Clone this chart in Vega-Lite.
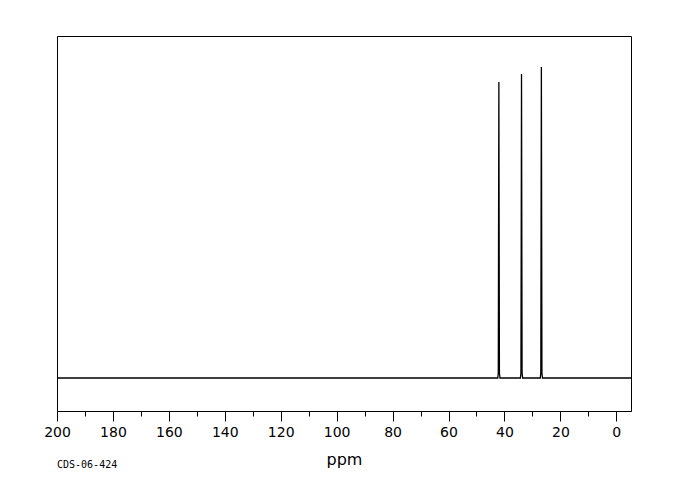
{
  "$schema": "https://vega.github.io/schema/vega-lite/v6.json",
  "width": 574,
  "height": 375,
  "autosize": "none",
  "padding": {"left": 57, "top": 36, "right": 49, "bottom": 89},
  "background": "white",
  "title": {"text": "CDS-06-424", "orient": "bottom", "anchor": "start", "frame": "group", "font": "DejaVu Sans Mono", "fontSize": 10, "fontWeight": "normal", "color": "black", "offset": -7},
  "config": {"view": {"stroke": "black", "strokeWidth": 1}},
  "data": {"values": [
    {"ppm": -5.25, "i": 0},
    {"ppm": 26.4, "i": 0},
    {"ppm": 26.6, "i": 5},
    {"ppm": 26.8, "i": 311},
    {"ppm": 27.0, "i": 5},
    {"ppm": 27.2, "i": 0},
    {"ppm": 33.5, "i": 0},
    {"ppm": 33.7, "i": 5},
    {"ppm": 33.9, "i": 304},
    {"ppm": 34.1, "i": 5},
    {"ppm": 34.3, "i": 0},
    {"ppm": 41.6, "i": 0},
    {"ppm": 41.8, "i": 5},
    {"ppm": 42.0, "i": 296},
    {"ppm": 42.2, "i": 5},
    {"ppm": 42.4, "i": 0},
    {"ppm": 200, "i": 0}
  ]},
  "mark": {"type": "line", "color": "black", "strokeWidth": 1.3, "clip": true},
  "encoding": {
    "x": {
      "field": "ppm", "type": "quantitative",
      "scale": {"domain": [-5.25, 200], "reverse": true, "nice": false, "zero": false},
      "axis": {
        "values": [0,10,20,30,40,50,60,70,80,90,100,110,120,130,140,150,160,170,180,190,200],
        "labelExpr": "datum.value % 20 === 0 ? datum.label : ''",
        "tickSize": {"condition": {"test": "datum.value % 20 === 0", "value": 10}, "value": 5},
        "tickColor": "black", "domainColor": "black", "grid": false,
        "labelFont": "DejaVu Sans", "labelFontSize": 14, "labelColor": "black", "labelPadding": 4,
        "labelFlush": false, "labelOverlap": false,
        "title": "ppm", "titleFont": "DejaVu Sans", "titleFontSize": 16, "titleFontWeight": "normal", "titleColor": "black", "titlePadding": 12
      }
    },
    "y": {
      "field": "i", "type": "quantitative",
      "scale": {"domain": [-33, 342], "nice": false, "zero": false},
      "axis": null
    }
  }
}
